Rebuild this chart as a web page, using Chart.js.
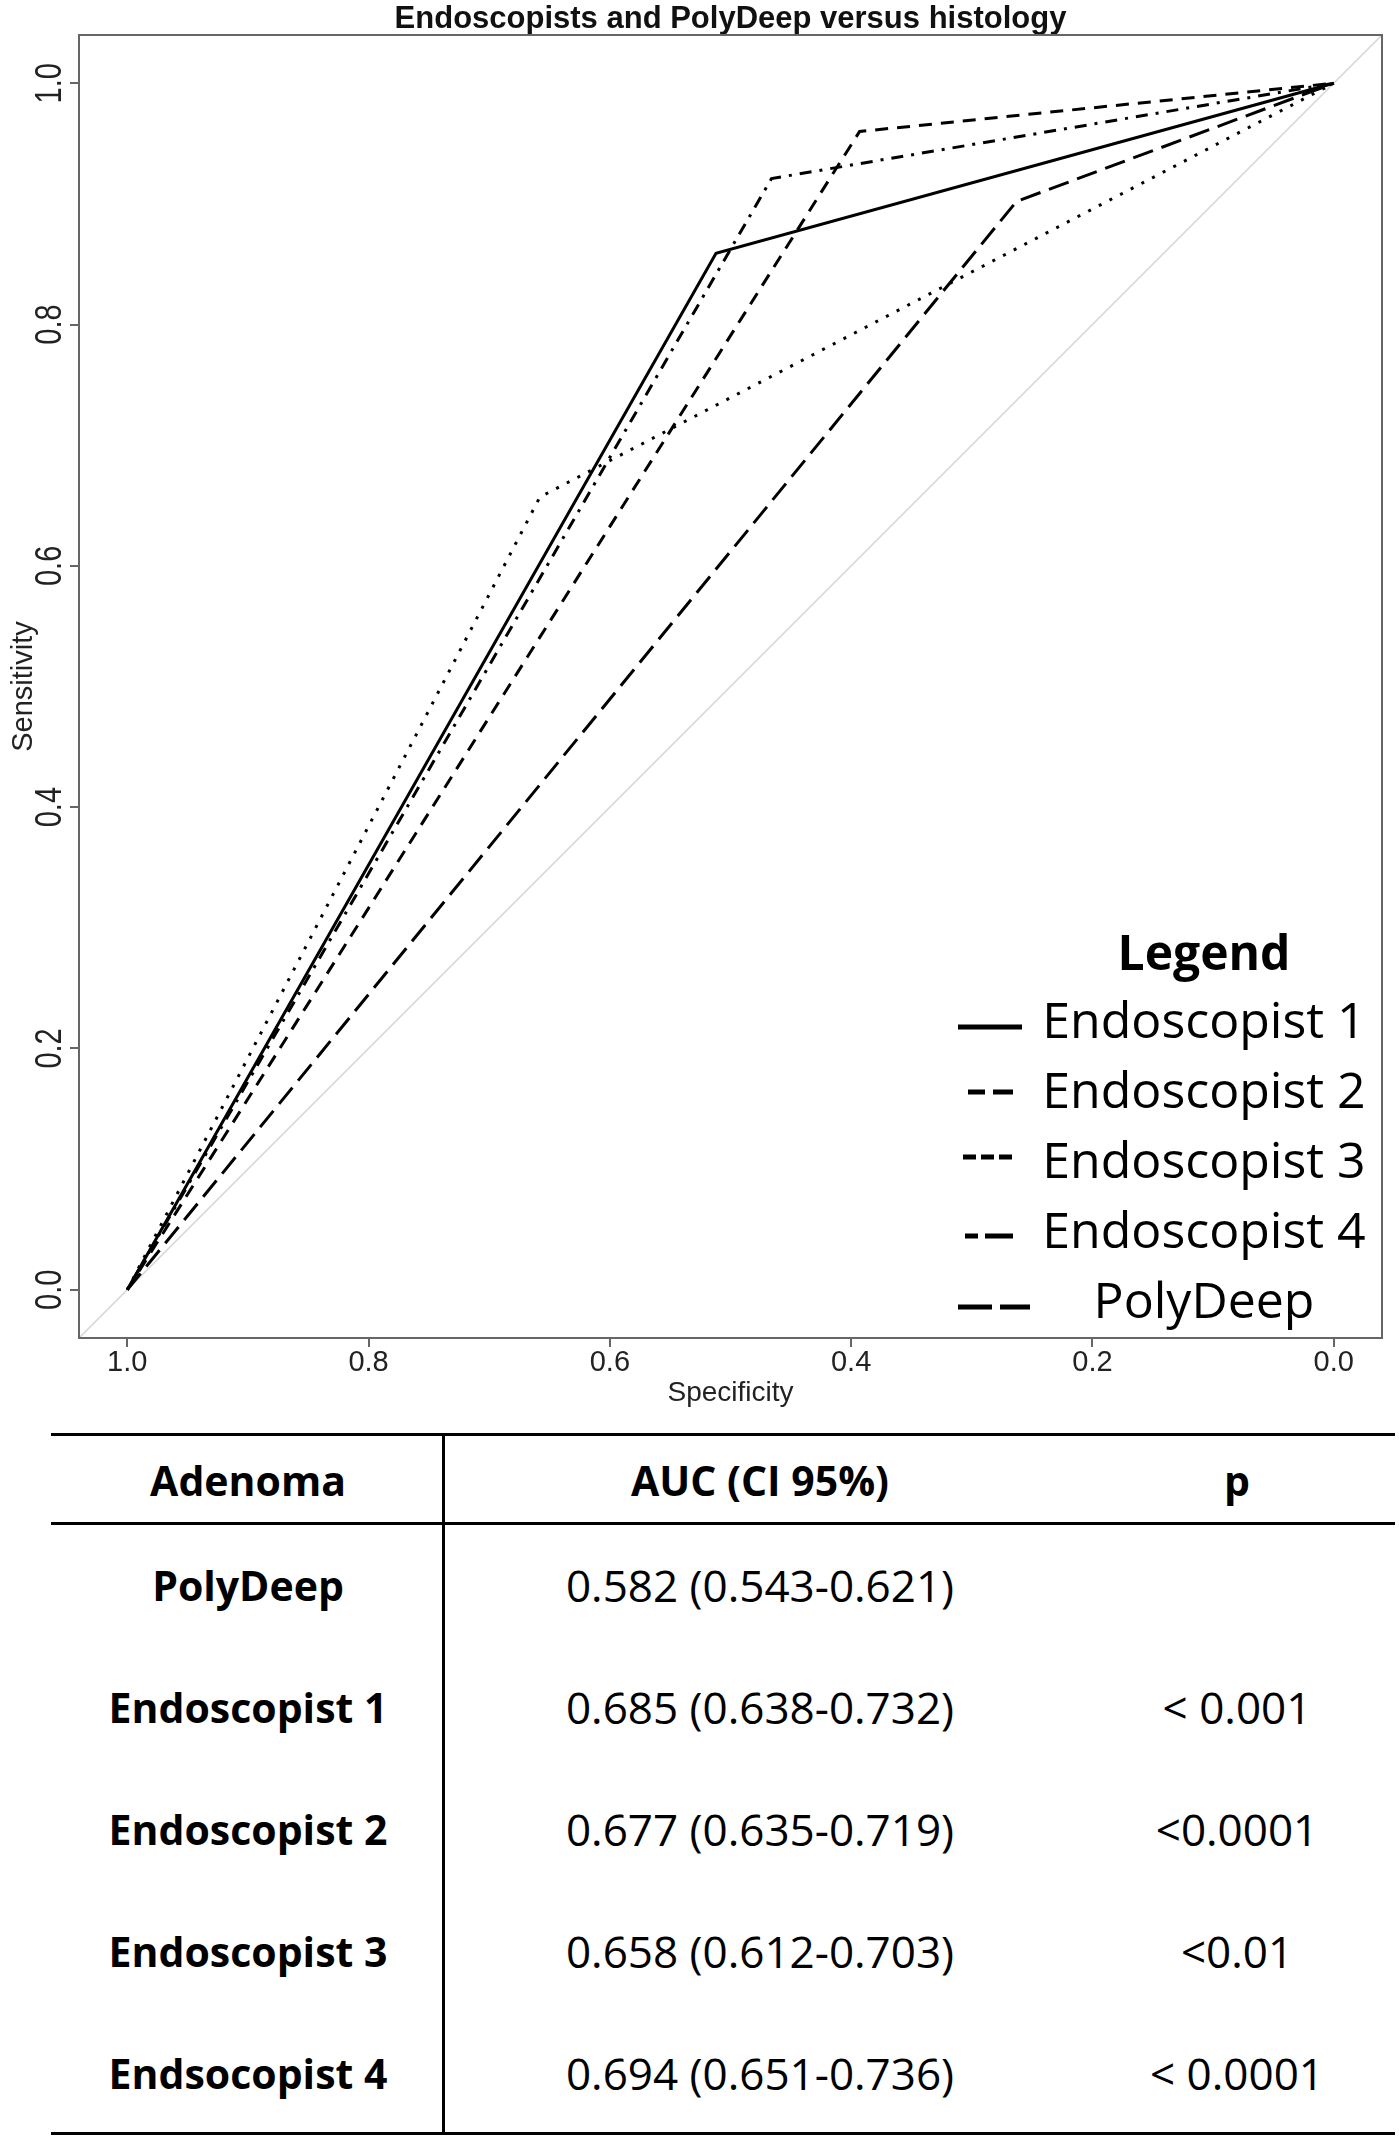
<!DOCTYPE html>
<html>
<head>
<meta charset="utf-8">
<script src="https://cdn.jsdelivr.net/npm/chart.js@4.4.0/dist/chart.umd.min.js"></script>
<style>
body{margin:0;background:#fff;width:1399px;height:2140px;position:relative;overflow:hidden;font-family:"Open Sans",sans-serif;}
#wrap{position:absolute;left:0;top:0;width:1399px;height:1420px;}
.rule{position:absolute;background:#000;}
.cell{position:absolute;transform:translate(-50%,-50%);white-space:nowrap;color:#000;line-height:1;}
.b{font-weight:700;font-size:41px;}
.r{font-weight:400;font-size:44px;}
</style>
</head>
<body>
<div id="wrap"><canvas id="roc" width="1399" height="1420"></canvas></div>
<div id="table"></div>
<script>
// ROC points: specificity (x, reversed) and sensitivity (y)
const seriesNames = ['Endoscopist 1', 'Endoscopist 2', 'Endoscopist 3', 'Endoscopist 4', 'PolyDeep'];
const endo1Spec = [1, 0.512, 0];
const endo1Sens = [0, 0.859, 1];
const endo2Spec = [1, 0.393, 0];
const endo2Sens = [0, 0.960, 1];
const endo3Spec = [1, 0.658, 0];
const endo3Sens = [0, 0.657, 1];
const endo4Spec = [1, 0.466, 0];
const endo4Sens = [0, 0.921, 1];
const polySpec = [1, 0.263, 0];
const polySens = [0, 0.902, 1];
// chance line, drawn across the whole plotting range
const diagSpec = [1.04, -0.04];
const diagSens = [-0.04, 1.04];
const tickValues = [0, 0.2, 0.4, 0.6, 0.8, 1.0];

// table under the plot
const tableHead = ['Adenoma', 'AUC (CI 95%)', 'p'];
const tableRows = ['PolyDeep', 'Endoscopist 1', 'Endoscopist 2', 'Endoscopist 3', 'Endsocopist 4'];
const aucValues = ['0.582 (0.543-0.621)', '0.685 (0.638-0.732)', '0.677 (0.635-0.719)', '0.658 (0.612-0.703)', '0.694 (0.651-0.736)'];
const pValues = ['', '< 0.001', '<0.0001', '<0.01', '< 0.0001'];

const dashes = [[], [13, 9], [3, 9], [3, 8, 12, 8], [21, 9]];
const specs = [endo1Spec, endo2Spec, endo3Spec, endo4Spec, polySpec];
const senss = [endo1Sens, endo2Sens, endo3Sens, endo4Sens, polySens];

function pts(xs, ys) {
    return xs.map((x, i) => ({x: x, y: ys[i]}));
}

let datasets = seriesNames.map((name, i) => ({
    label: name,
    data: pts(specs[i], senss[i]),
    showLine: true,
    borderColor: '#000',
    borderWidth: 3,
    borderDash: dashes[i],
    borderCapStyle: 'butt',
    pointRadius: 0,
    tension: 0
}));
datasets.push({
    label: 'chance',
    data: pts(diagSpec, diagSens),
    showLine: true,
    borderColor: '#d4d4d4',
    borderWidth: 1.5,
    pointRadius: 0
});

const axisFont = '"Liberation Sans", Arial, sans-serif';

// box round the plot, rotated y labels and y title (R style)
const framePlugin = {
    id: 'frame',
    afterDraw(chart) {
        const {ctx, chartArea: a, scales} = chart;
        ctx.save();
        ctx.strokeStyle = '#666';
        ctx.lineWidth = 2;
        ctx.strokeRect(a.left, a.top, a.right - a.left, a.bottom - a.top);
        ctx.fillStyle = '#222';
        ctx.textAlign = 'center';
        ctx.textBaseline = 'alphabetic';
        ctx.font = '29px ' + axisFont;
        scales.y.ticks.forEach(t => {
            ctx.save();
            ctx.translate(a.left - 18, scales.y.getPixelForValue(t.value));
            ctx.rotate(-Math.PI / 2);
            ctx.scale(1, 1.25);
            ctx.fillText(t.value.toFixed(1), 0, 0);
            ctx.restore();
        });
        ctx.font = '29px ' + axisFont;
        ctx.translate(a.left - 47, (a.top + a.bottom) / 2);
        ctx.rotate(-Math.PI / 2);
        ctx.fillText('Sensitivity', 0, 0);
        ctx.restore();
    }
};

// the pasted-in legend at bottom right
const legendSamples = [
    {x0: 958, x1: 1022, dash: [], dy: -11},
    {x0: 968, x1: 1013, dash: [17, 8, 20, 100], dy: -16},
    {x0: 963, x1: 1012, dash: [13, 5], dy: -21},
    {x0: 965, x1: 1013, dash: [13, 7, 28, 100], dy: -12},
    {x0: 958, x1: 1030, dash: [34, 8, 30, 100], dy: -11}
];
const legendPlugin = {
    id: 'bigLegend',
    afterDatasetsDraw(chart) {
        const ctx = chart.ctx;
        const cx = 1204;
        ctx.save();
        ctx.fillStyle = '#000';
        ctx.textAlign = 'center';
        ctx.textBaseline = 'alphabetic';
        ctx.font = 'bold 48px "Open Sans", sans-serif';
        ctx.fillText('Legend', cx, 970);
        ctx.font = '50px "Open Sans", sans-serif';
        seriesNames.forEach((name, i) => {
            const base = 1038 + i * 70;
            ctx.fillText(name, cx, base);
            const s = legendSamples[i];
            ctx.beginPath();
            ctx.strokeStyle = '#000';
            ctx.lineWidth = 5;
            ctx.lineCap = 'butt';
            ctx.setLineDash(s.dash);
            ctx.moveTo(s.x0, base + s.dy);
            ctx.lineTo(s.x1, base + s.dy);
            ctx.stroke();
        });
        ctx.restore();
    }
};

new Chart(document.getElementById('roc'), {
    type: 'scatter',
    data: {datasets: datasets},
    options: {
        responsive: false,
        animation: false,
        devicePixelRatio: 1,
        layout: {padding: {left: 70, right: 17, top: 0, bottom: 13}},
        plugins: {
            legend: {display: false},
            tooltip: {enabled: false},
            title: {
                display: true,
                text: 'Endoscopists and PolyDeep versus histology',
                fullSize: false,
                color: '#111',
                font: {family: axisFont, size: 31, weight: 'bold', lineHeight: 1},
                padding: {top: 4, bottom: 0}
            }
        },
        scales: {
            x: {
                type: 'linear',
                reverse: true,
                min: -0.04,
                max: 1.04,
                afterBuildTicks: s => { s.ticks = tickValues.map(v => ({value: v})); },
                grid: {drawOnChartArea: false, drawTicks: true, tickLength: 9, color: '#666', lineWidth: 2},
                border: {display: true, color: '#666', width: 2},
                ticks: {
                    color: '#222', padding: 1, maxRotation: 0, autoSkip: false,
                    font: {family: axisFont, size: 29, lineHeight: 1},
                    callback: v => Number(v).toFixed(1)
                },
                title: {
                    display: true, text: 'Specificity', color: '#222',
                    font: {family: axisFont, size: 28, lineHeight: 1},
                    padding: {top: 1, bottom: 0}
                }
            },
            y: {
                type: 'linear',
                min: -0.04,
                max: 1.04,
                afterBuildTicks: s => { s.ticks = tickValues.map(v => ({value: v})); },
                grid: {drawOnChartArea: false, drawTicks: true, tickLength: 9, color: '#666', lineWidth: 2},
                border: {display: true, color: '#666', width: 2},
                ticks: {display: false}
            }
        }
    },
    plugins: [framePlugin, legendPlugin]
});

// table
const tbl = document.getElementById('table');
function rule(l, t, w, h) {
    const d = document.createElement('div');
    d.className = 'rule';
    d.style.cssText = 'left:' + l + 'px;top:' + t + 'px;width:' + w + 'px;height:' + h + 'px;';
    tbl.appendChild(d);
}
function cell(txt, x, y, cls) {
    const d = document.createElement('div');
    d.className = 'cell ' + cls;
    d.textContent = txt;
    d.style.left = x + 'px';
    d.style.top = y + 'px';
    tbl.appendChild(d);
}
const colX = [248, 760, 1237];
rule(51, 1433, 1344, 3);
rule(51, 1522, 1344, 3);
rule(51, 2132, 1344, 3);
rule(442, 1433, 3, 702);
tableHead.forEach((h, i) => cell(h, colX[i], 1480, 'b'));
tableRows.forEach((name, i) => {
    const y = 1585 + i * 122;
    cell(name, colX[0], y, 'b');
    cell(aucValues[i], colX[1], y, 'r');
    if (pValues[i]) cell(pValues[i], colX[2], y, 'r');
});
</script>
</body>
</html>
